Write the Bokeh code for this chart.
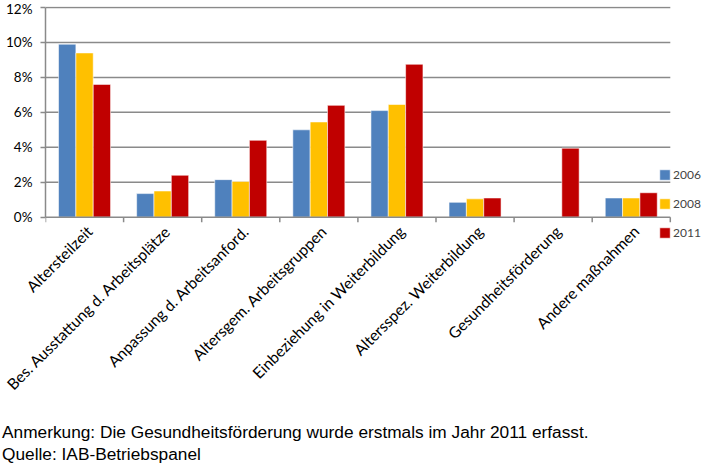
import math
from bokeh.plotting import figure
from bokeh.models import (ColumnDataSource, FixedTicker, PrintfTickFormatter,
                          Legend, LegendItem, Range1d, Div)
from bokeh.layouts import column
from bokeh.embed import file_html
from bokeh.resources import INLINE

# ---------------- data ----------------
categories = [
    "Altersteilzeit",
    "Bes. Ausstattung d. Arbeitsplätze",
    "Anpassung d. Arbeitsanford.",
    "Altersgem. Arbeitsgruppen",
    "Einbeziehung in Weiterbildung",
    "Altersspez. Weiterbildung",
    "Gesundheitsförderung",
    "Andere maßnahmen",
]
years = ["2006", "2008", "2011"]
v2006 = [9.9, 1.35, 2.15, 5.0, 6.1, 0.85, None, 1.1]
v2008 = [9.4, 1.5, 2.05, 5.45, 6.45, 1.05, None, 1.1]
v2011 = [7.6, 2.4, 4.4, 6.4, 8.75, 1.1, 3.95, 1.4]
y_ticks = [0, 2, 4, 6, 8, 10, 12]
note_text = "Anmerkung: Die Gesundheitsförderung wurde erstmals im Jahr 2011 erfasst."
source_text = "Quelle: IAB-Betriebspanel"

colors = ["#4F81BD", "#FFC000", "#C00000"]
grid_col = "#8a8a8a"

# ---------------- layout geometry (pixels) ----------------
W, H = 702, 421
frame_left, cat_px = 45, 78.1
frame_top, top_tick_px, zero_px, frame_bottom = 6, 7, 216.7, 243
label_shift_px = 5
n = len(categories)
y_max = max(y_ticks)
ppu = (zero_px - top_tick_px) / y_max
y_hi = y_max + (top_tick_px - frame_top) / ppu
y_lo = -(frame_bottom - zero_px) / ppu
x_hi = -0.5 + (W - frame_left) / cat_px

p = figure(width=W, height=H, output_backend="svg", toolbar_location=None,
           x_range=Range1d(-0.5, x_hi), y_range=Range1d(y_lo, y_hi),
           min_border_left=frame_left, min_border_right=0,
           min_border_top=frame_top, min_border_bottom=H - frame_bottom)
p.outline_line_color = None
p.xgrid.visible = False
p.ygrid.visible = False

# horizontal grid lines over the category area
grid_vals = [t for t in y_ticks if t > 0]
p.segment(x0=-0.5, x1=n - 0.5, y0=grid_vals, y1=grid_vals, line_color=grid_col,
          line_width=1.5, level="underlay")

bar_w = 0.222
renderers = []
for j, (yr, vals, col) in enumerate(zip(years, [v2006, v2008, v2011], colors)):
    xs, tops = [], []
    for i, v in enumerate(vals):
        if v is None:
            continue
        xs.append(i + (j - 1) * bar_w)
        tops.append(v)
    src = ColumnDataSource(dict(x=xs, top=tops))
    r = p.vbar(x="x", top="top", bottom=0, width=bar_w, source=src,
               fill_color=col, line_color="white", line_alpha=0.55, line_width=1)
    renderers.append(r)

# category axis line at 0 % with tick marks at the category boundaries
bounds_x = [i - 0.5 for i in range(n + 1)]
tick_len = 5 / ppu
p.segment(x0=-0.5, x1=n - 0.5, y0=0, y1=0, line_color=grid_col, line_width=1.5)
p.segment(x0=bounds_x, x1=bounds_x, y0=[0] * len(bounds_x), y1=[-tick_len] * len(bounds_x),
          line_color=grid_col, line_width=1.5)

# category labels (axis at frame bottom, pulled up to the 0 % line)
shift = label_shift_px / cat_px
label_pos = [i + shift for i in range(n)]
xa = p.xaxis[0]
xa.ticker = FixedTicker(ticks=label_pos)
xa.major_label_overrides = {pos: c for pos, c in zip(label_pos, categories)}
xa.axis_line_color = None
xa.major_tick_line_color = None
xa.minor_tick_line_color = None
xa.major_tick_out = 0
xa.major_tick_in = 0
xa.major_label_orientation = math.pi / 4
xa.major_label_text_font = "Lato"
xa.major_label_text_font_size = "15.5px"
xa.major_label_text_color = "#000000"
xa.major_label_standoff = int(round(11 - (frame_bottom - zero_px)))

ya = p.yaxis[0]
ya.bounds = (0, y_max)
ya.ticker = FixedTicker(ticks=y_ticks)
ya.formatter = PrintfTickFormatter(format="%d%%")
ya.major_tick_out = 5
ya.major_tick_in = 0
ya.major_tick_line_color = grid_col
ya.major_tick_line_width = 1.5
ya.minor_tick_line_color = None
ya.axis_line_color = grid_col
ya.axis_line_width = 1.5
ya.major_label_text_font = "Lato"
ya.major_label_text_font_size = "13.5px"
ya.major_label_text_color = "#000000"
ya.major_label_standoff = 8

legend = Legend(items=[LegendItem(label=yr, renderers=[r]) for yr, r in zip(years, renderers)],
                location=(613, 3), orientation="vertical",
                glyph_width=13, glyph_height=13, label_height=16, spacing=13,
                padding=0, margin=0, border_line_color=None, background_fill_alpha=0,
                label_text_font="Lato", label_text_font_size="12px", label_standoff=2)
p.add_layout(legend)

notes = Div(text=note_text + "<br>" + source_text, width=W, margin=(0, 0, 0, 0),
            styles={"font-family": "'Liberation Sans', Arial, sans-serif",
                    "font-size": "17.3px", "line-height": "22px", "color": "#000000",
                    "white-space": "nowrap", "padding-left": "2px"})

layout = column(p, notes, spacing=0)
open("out.html", "w").write(file_html(layout, INLINE))
